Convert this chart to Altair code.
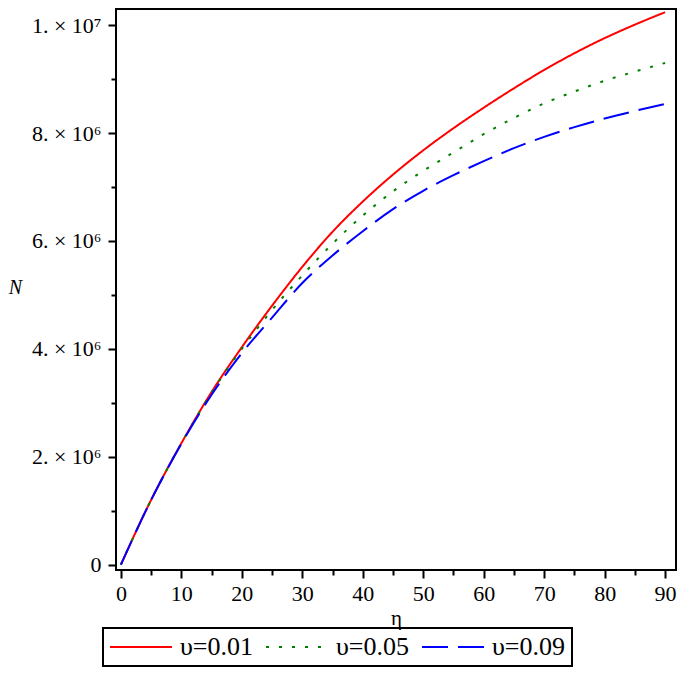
import json
import altair as alt
import pandas as pd

# ---- data ----
eta = [0, 5, 10, 15, 20, 25, 30, 35, 40, 45, 50, 55, 60, 65, 70, 75, 80, 85, 90]
n_001 = [0, 1.20e6, 2.25e6, 3.20e6, 4.03e6, 4.80e6, 5.52e6, 6.17e6, 6.73e6, 7.23e6,
         7.68e6, 8.09e6, 8.47e6, 8.83e6, 9.17e6, 9.48e6, 9.76e6, 10.01e6, 10.24e6]
n_005 = [0, 1.20e6, 2.25e6, 3.19e6, 4.00e6, 4.72e6, 5.36e6, 5.95e6, 6.47e6, 6.92e6,
         7.30e6, 7.64e6, 7.98e6, 8.28e6, 8.55e6, 8.77e6, 8.97e6, 9.14e6, 9.30e6]
n_009 = [0, 1.20e6, 2.24e6, 3.15e6, 3.92e6, 4.58e6, 5.22e6, 5.73e6, 6.18e6, 6.59e6,
         6.93e6, 7.22e6, 7.48e6, 7.72e6, 7.93e6, 8.11e6, 8.27e6, 8.41e6, 8.54e6]

series_names = ["υ=0.01", "υ=0.05", "υ=0.09"]
series_colors = ["#ff0000", "#008000", "#0000ff"]
series_dashes = [[1, 0], [3, 10], [26, 10]]

y_major = [0, 2000000, 4000000, 6000000, 8000000, 10000000]
y_major_labels = ["0", "2. × 10⁶", "4. × 10⁶", "6. × 10⁶", "8. × 10⁶", "1. × 10⁷"]
y_minor = [1000000, 3000000, 5000000, 7000000, 9000000]
x_major = [0, 10, 20, 30, 40, 50, 60, 70, 80, 90]
x_major_labels = ["0", "10", "20", "30", "40", "50", "60", "70", "80", "90"]
x_minor = [5, 15, 25, 35, 45, 55, 65, 75, 85]

rows = []
for name, vals in zip(series_names, [n_001, n_005, n_009]):
    for e, v in zip(eta, vals):
        rows.append({"eta": e, "N": v, "series": name})
df = pd.DataFrame(rows)

FONT = "Liberation Serif, Times New Roman, serif"


def label_expr(vals, labs):
    v = json.dumps(vals)
    l = json.dumps(labs, ensure_ascii=False)
    return f"indexof({v}, datum.value) >= 0 ? {l}[indexof({v}, datum.value)] : ''"


def tick_size(vals, big, small):
    return {"condition": {"test": f"indexof({json.dumps(vals)}, datum.value) >= 0", "value": big},
            "value": small}


x_axis = alt.Axis(
    values=sorted(x_major + x_minor),
    labelExpr=label_expr(x_major, x_major_labels),
    tickSize=tick_size(x_major, 8, 5),
    tickWidth=2,
    tickColor="black",
    domain=False,
    grid=False,
    labelFont=FONT,
    labelFontSize=22,
    labelColor="black",
    labelPadding=5,
    labelOverlap=False,
    labelFlush=False,
    title="η",
    titleFont=FONT,
    titleFontSize=21,
    titleFontWeight="normal",
    titleColor="black",
    titleX=280,
    titleY=54,
    titleAlign="center",
    titleBaseline="alphabetic",
)

y_axis = alt.Axis(
    values=sorted(y_major + y_minor),
    labelExpr=label_expr(y_major, y_major_labels),
    tickSize=tick_size(y_major, 8, 5),
    tickWidth=2,
    tickColor="black",
    domain=False,
    grid=False,
    labelFont=FONT,
    labelFontSize=22,
    labelColor="black",
    labelPadding=7,
    labelOverlap=False,
    labelFlush=False,
    title="N",
    titleFont=FONT,
    titleFontSize=20,
    titleFontStyle="italic",
    titleFontWeight="normal",
    titleColor="black",
    titleAngle=0,
    titleX=-101,
    titleY=278,
    titleAlign="center",
    titleBaseline="middle",
)

legend = alt.Legend(
    title=None,
    orient="none",
    legendX=-13,
    legendY=619,
    direction="horizontal",
    columns=3,
    symbolType="stroke",
    symbolSize=3844,
    symbolStrokeWidth=2,
    clipHeight=26,
    labelFont=FONT,
    labelFontSize=26,
    labelColor="black",
    labelOffset=7,
    labelLimit=300,
    columnPadding=11,
    padding=6,
    strokeColor="black",
)

chart = alt.Chart(df).mark_line(strokeWidth=2, interpolate="monotone").encode(
    x=alt.X("eta:Q", scale=alt.Scale(domain=[-0.81, 91.8], nice=False, zero=False), axis=x_axis),
    y=alt.Y("N:Q", scale=alt.Scale(domain=[-100000, 10300000], nice=False, zero=False), axis=y_axis),
    color=alt.Color("series:N", scale=alt.Scale(domain=series_names, range=series_colors), legend=legend),
    strokeDash=alt.StrokeDash("series:N", scale=alt.Scale(domain=series_names, range=series_dashes), legend=legend),
).properties(
    width=560,
    height=561,
    autosize=alt.AutoSizeParams(type="none"),
    padding={"left": 108, "top": 1, "right": 1, "bottom": 98},
    background="white",
).configure_view(
    stroke="black",
    strokeWidth=2,
).configure_legend(
    strokeWidth=2,
)

chart.save("out.html", embed_options={"renderer": "svg", "actions": False})
